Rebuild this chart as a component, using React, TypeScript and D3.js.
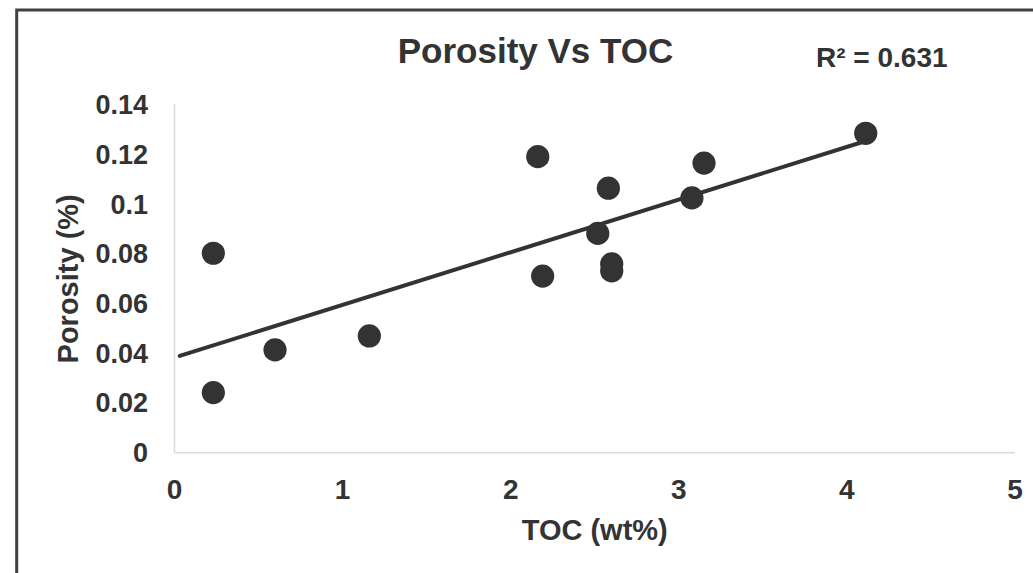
import React from "react";
import * as d3 from "d3";

// Data
const tocValues = [0.231, 0.231, 0.598, 1.159, 2.161, 2.19, 2.518, 2.581, 2.601, 2.601, 3.078, 3.15, 4.112];
const porosityValues = [0.0803, 0.0242, 0.0414, 0.047, 0.1192, 0.0711, 0.0883, 0.1065, 0.076, 0.0732, 0.1026, 0.1166, 0.1286];
const xTicks = [0, 1, 2, 3, 4, 5];
const yTicks = [0, 0.02, 0.04, 0.06, 0.08, 0.1, 0.12, 0.14];
const yTickLabels = ["0", "0.02", "0.04", "0.06", "0.08", "0.1", "0.12", "0.14"];
const chartTitle = "Porosity Vs TOC";
const r2Label = "R² = 0.631";
const xAxisTitle = "TOC (wt%)";
const yAxisTitle = "Porosity (%)";
const trendBackward = 0.2;

const W = 1033;
const H = 573;
const margin = { left: 174.5, right: W - 1015, top: 105, bottom: H - 452.7 };
const FONT = "'Liberation Sans', Arial, sans-serif";
const TEXT = "#333333";

export default function App() {
  const x = d3.scaleLinear().domain([0, 5]).range([margin.left, W - margin.right]);
  const y = d3.scaleLinear().domain([0, 0.14]).range([H - margin.bottom, margin.top]);

  const points = tocValues.map((t, i) => ({ x: t, y: porosityValues[i] }));
  const mx = d3.mean(tocValues) as number;
  const my = d3.mean(porosityValues) as number;
  let sxy = 0;
  let sxx = 0;
  points.forEach((p) => {
    sxy += (p.x - mx) * (p.y - my);
    sxx += (p.x - mx) * (p.x - mx);
  });
  const slope = sxy / sxx;
  const intercept = my - slope * mx;
  const x0 = (d3.min(tocValues) as number) - trendBackward;
  const x1 = d3.max(tocValues) as number;
  const trend = [
    { x: x0, y: intercept + slope * x0 },
    { x: x1, y: intercept + slope * x1 },
  ];
  const line = d3
    .line<{ x: number; y: number }>()
    .x((d) => x(d.x))
    .y((d) => y(d.y));

  const [xl, xr] = x.range();
  const [yb, yt] = y.range();

  return (
    <svg
      width={W}
      height={H}
      style={{ position: "absolute", left: 0, top: 0, background: "#fff" }}
      fontFamily={FONT}
      fontWeight="bold"
    >
      <rect x={0} y={0} width={W} height={H} fill="#fff" />
      <rect x={16.7} y={10} width={3000} height={3000} fill="none" stroke="#404040" strokeWidth={3} />

      {/* axes lines */}
      <line x1={xl} x2={xl} y1={yt - 1} y2={yb} stroke="#d9d9d9" strokeWidth={1.5} />
      <line x1={xl} x2={xr} y1={yb} y2={yb} stroke="#d9d9d9" strokeWidth={1.5} />

      {/* y tick labels */}
      {yTicks.map((t, i) => (
        <text key={"y" + i} x={148} y={y(t)} dy="0.35em" textAnchor="end" fontSize={27} fill={TEXT}>
          {yTickLabels[i]}
        </text>
      ))}

      {/* x tick labels */}
      {xTicks.map((t) => (
        <text key={"x" + t} x={x(t)} y={499} textAnchor="middle" fontSize={28} fill={TEXT}>
          {t}
        </text>
      ))}

      {/* trendline */}
      <path d={line(trend) || ""} stroke="#333333" strokeWidth={4} fill="none" strokeLinecap="round" />

      {/* points */}
      {points.map((p, i) => (
        <circle key={"p" + i} cx={x(p.x)} cy={y(p.y)} r={11.6} fill="#333333" />
      ))}

      {/* titles */}
      <text x={535.5} y={63.3} textAnchor="middle" fontSize={35} fill={TEXT}>
        {chartTitle}
      </text>
      <text x={816} y={67.3} textAnchor="start" fontSize={28} fill={TEXT}>
        {r2Label}
      </text>
      <text x={(xl + xr) / 2} y={540} textAnchor="middle" fontSize={29} fill={TEXT}>
        {xAxisTitle}
      </text>
      <text
        transform={`translate(78, ${(yb + yt) / 2}) rotate(-90)`}
        textAnchor="middle"
        fontSize={29}
        fill={TEXT}
      >
        {yAxisTitle}
      </text>
    </svg>
  );
}
